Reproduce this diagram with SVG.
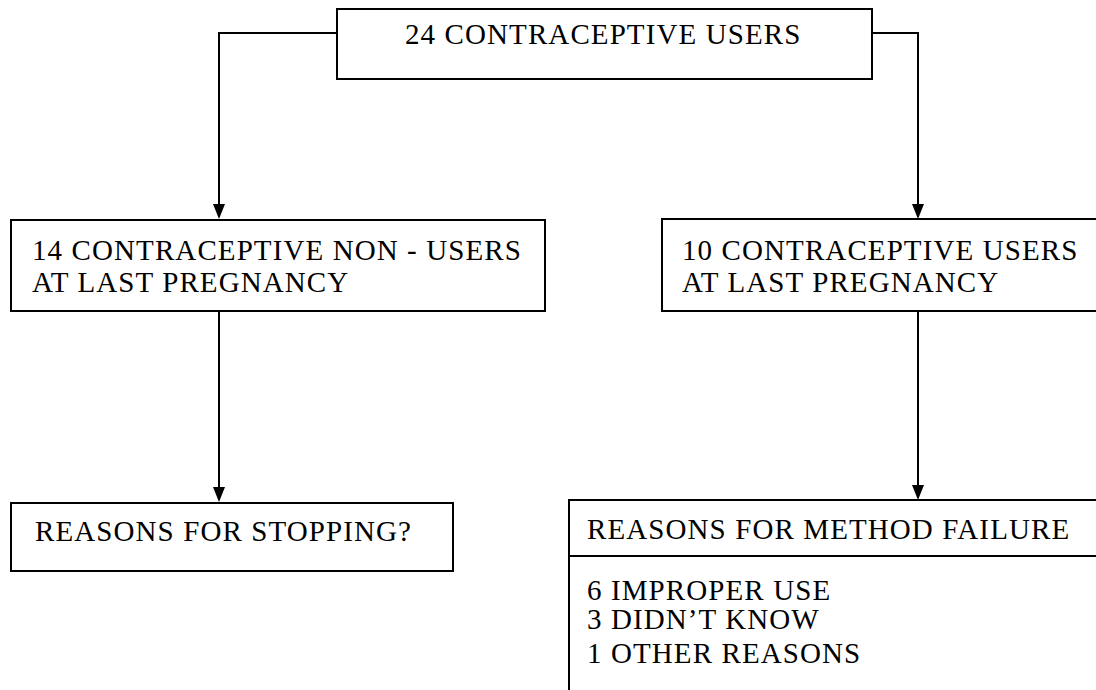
<svg xmlns="http://www.w3.org/2000/svg" width="1096" height="690" viewBox="0 0 1096 690">
<defs>
<style>
.box{fill:#fff;stroke:#000;stroke-width:2}
.ln{fill:none;stroke:#000;stroke-width:2}
text{font-family:"Liberation Serif","Times New Roman",serif;font-size:29px;letter-spacing:1.1px;fill:#000}
</style>
</defs>
<rect width="1096" height="690" fill="#fff"/>
<g id="connectors">
<path class="ln" d="M337,33 H219 V204"/>
<path class="ln" d="M872,33 H918 V204"/>
<path class="ln" d="M219,311 V487"/>
<path class="ln" d="M918,311 V485"/>
<path d="M213,204 L225,204 L219,219 Z" fill="#000"/>
<path d="M912,204 L924,204 L918,219 Z" fill="#000"/>
<path d="M213,487 L225,487 L219,502 Z" fill="#000"/>
<path d="M912,485 L924,485 L918,500 Z" fill="#000"/>
</g>
<g id="top">
<rect class="box" x="337" y="9" width="535" height="70"/>
<text x="405" y="44">24 CONTRACEPTIVE USERS</text>
</g>
<g id="nonusers">
<rect class="box" x="11" y="220" width="534" height="91"/>
<text x="32" y="260">14 CONTRACEPTIVE NON  - USERS</text>
<text x="32" y="292">AT LAST PREGNANCY</text>
</g>
<g id="users">
<rect class="box" x="662" y="219" width="440" height="92"/>
<text x="682" y="260">10 CONTRACEPTIVE USERS</text>
<text x="682" y="292">AT LAST PREGNANCY</text>
</g>
<g id="stopping">
<rect class="box" x="11" y="503" width="442" height="68"/>
<text x="35" y="541">REASONS FOR STOPPING?</text>
</g>
<g id="failure">
<rect class="box" x="569" y="500" width="540" height="200"/>
<line class="ln" x1="569" y1="556" x2="1100" y2="556"/>
<text x="587" y="539">REASONS FOR METHOD FAILURE</text>
<text x="587" y="600">6 IMPROPER USE</text>
<text x="587" y="629">3 DIDN’T KNOW</text>
<text x="587" y="663">1 OTHER REASONS</text>
</g>
</svg>
